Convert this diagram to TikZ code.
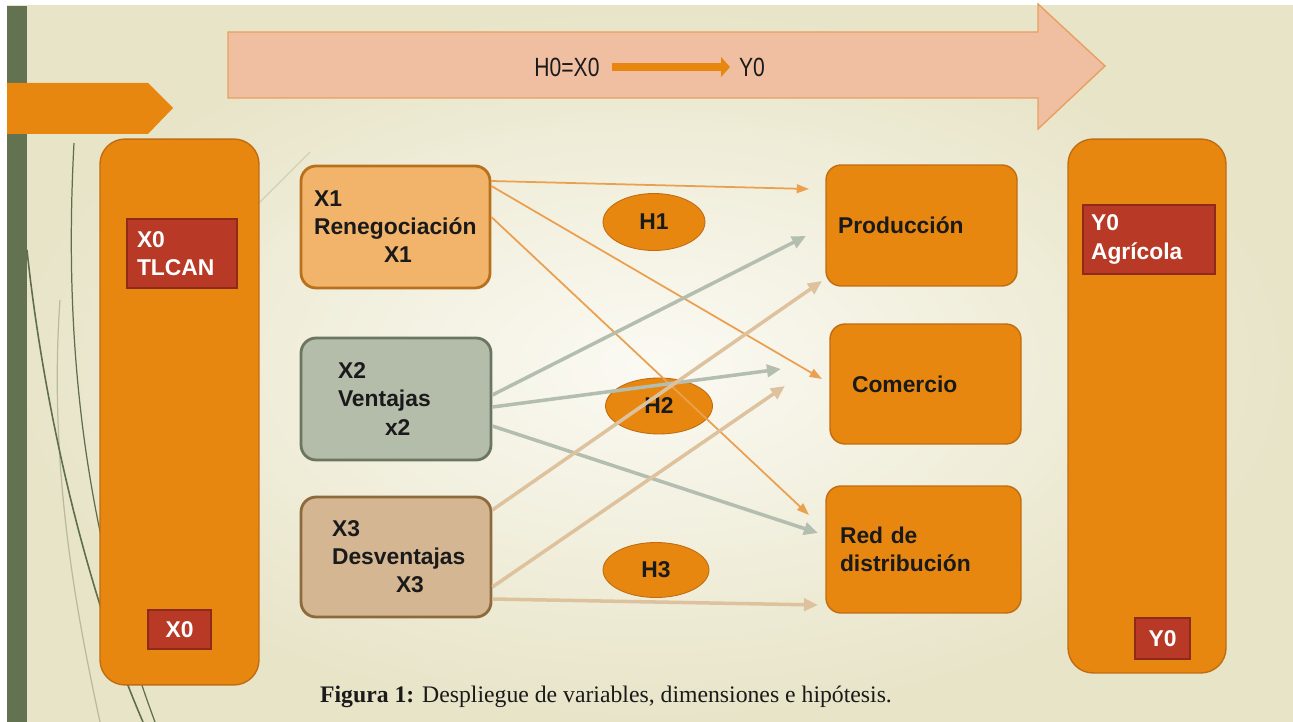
\documentclass[tikz,border=0pt]{standalone}
\usepackage{fontspec}
\setmainfont{Liberation Sans}
\newfontfamily\narrowfont[FakeStretch=0.8]{Liberation Sans}
\newfontfamily\captionfont{Liberation Serif}
\usetikzlibrary{arrows.meta,shapes.geometric}

\definecolor{bgin}{HTML}{FBFAF3}
\definecolor{bgout}{HTML}{E8E4C8}
\definecolor{bargreen}{HTML}{637352}
\definecolor{wisp}{HTML}{5E6E4C}
\definecolor{dimorange}{HTML}{E8870F}
\definecolor{orangeline}{HTML}{C06C10}
\definecolor{varred}{HTML}{B83A26}
\definecolor{redline}{HTML}{8E2A1A}
\definecolor{peach}{HTML}{F0BEA0}
\definecolor{peachline}{HTML}{E8A060}
\definecolor{xonefill}{HTML}{F2B46A}
\definecolor{xoneline}{HTML}{B8701C}
\definecolor{xtwofill}{HTML}{B4BCAA}
\definecolor{xtwoline}{HTML}{6B7660}
\definecolor{xthreefill}{HTML}{D4B792}
\definecolor{xthreeline}{HTML}{8C6A3C}
\definecolor{linkorange}{HTML}{EBA050}
\definecolor{linkgrey}{HTML}{B3BDB0}
\definecolor{linktan}{HTML}{DEC29E}
\definecolor{ink}{HTML}{1A1A1A}

\newcommand\boxfont{\fontsize{13}{16}\selectfont\bfseries}

\begin{document}
\begin{tikzpicture}[
    x=0.02cm, y=-0.02cm,
    bigbox/.style={draw=orangeline, line width=0.8pt, fill=dimorange, rounded corners=0.5cm},
    redbox/.style={draw=redline, line width=0.8pt, fill=varred, text=white, font=\boxfont, align=left},
    varbox/.style={line width=1.6pt, rounded corners=0.3cm, text=ink, font=\boxfont, align=left, minimum height=2.44cm},
    dimbox/.style={draw=orangeline, line width=0.8pt, fill=dimorange, rounded corners=0.3cm, text=ink, font=\boxfont, align=left},
    hyp/.style={ellipse, draw=orangeline, line width=0.5pt, fill=dimorange, text=ink, font=\boxfont, inner sep=0pt},
    thin link/.style={-{Triangle[length=7pt,width=5pt]}, line width=1pt, draw=linkorange},
    thick link/.style={-{Triangle[length=8pt,width=7pt]}, line width=2pt},
    wispline/.style={draw=wisp, line width=0.7pt}
]
    % page and background
    \useasboundingbox (0,0) rectangle (1293,722);
    \fill[white] (0,0) rectangle (1293,722);
    \shade[inner color=bgin, outer color=bgout] (7,6) rectangle (1293,722);
    \fill[bargreen] (7,6) rectangle (27,722);

    % wisps
    \draw[wispline] (74,143) .. controls (64,330) and (80,520) .. (155,722);
    \draw[wispline, line width=0.9pt] (27,250) .. controls (45,420) and (90,600) .. (143,722);
    \draw[wispline, opacity=0.35] (60,300) .. controls (48,470) and (78,620) .. (100,722);
    \draw[wispline, opacity=0.2] (259,203) -- (310,152);

    % big arrow on top
    \filldraw[fill=peach, draw=peachline, line width=0.8pt]
        (228,32) -- (1038,32) -- (1038,4) -- (1105,66) -- (1038,129) -- (1038,98) -- (228,98) -- cycle;
    \node[font=\narrowfont\fontsize{15}{18}\selectfont, text=ink, inner sep=0pt] (hzero) at (567,67) {H0=X0};
    \node[font=\narrowfont\fontsize{15}{18}\selectfont, text=ink, inner sep=0pt] (yzero) at (752,67) {Y0};
    \draw[-{Triangle[length=5pt,width=11pt]}, line width=4.5pt, draw=dimorange, shorten <=7pt, shorten >=5pt] (hzero) -- (yzero);

    % small arrow on the left
    \fill[dimorange] (7,83) -- (148,83) -- (173,108) -- (148,134) -- (7,134) -- cycle;

    % X0 and Y0
    \node[bigbox, minimum width=3.18cm, minimum height=10.92cm] (xzero) at (179.5,412) {};
    \node[bigbox, minimum width=3.16cm, minimum height=10.68cm] (yzerobox) at (1147,406) {};
    \node[redbox, minimum width=2.2cm, minimum height=1.38cm, text width=1.8cm, inner xsep=0.2cm] (tlcan) at (182,253.5) {X0\\TLCAN};
    \node[redbox, minimum width=1.26cm, minimum height=0.78cm, align=center] (xzerolow) at (179.5,629.5) {X0};
    \node[redbox, minimum width=2.64cm, minimum height=1.38cm, text width=2.32cm, inner xsep=0.16cm] (agricola) at (1149,239.5) {Y0\\Agrícola};
    \node[redbox, minimum width=1.1cm, minimum height=0.82cm, align=center] (yzerolow) at (1162.5,638.5) {Y0};

    % variables
    \node[varbox, draw=xoneline, fill=xonefill, text width=3.26cm, inner xsep=0.26cm] (xone) at (395.5,227)
        {X1\\Renegociación\\\hspace*{1.4cm}X1};
    \node[varbox, draw=xtwoline, fill=xtwofill, text width=2.32cm, inner xsep=0.74cm] (xtwo) at (396,399)
        {X2\\Ventajas\\\hspace*{0.94cm}x2};
    \node[varbox, draw=xthreeline, fill=xthreefill, text width=2.56cm, inner xsep=0.62cm, minimum height=2.4cm] (xthree) at (396,557)
        {X3\\Desventajas\\\hspace*{1.28cm}X3};

    % dimensions
    \node[dimbox, minimum height=2.42cm, text width=3.34cm, inner xsep=0.24cm] (prod) at (921.5,225.5) {Producción};
    \node[dimbox, minimum height=2.4cm, text width=2.94cm, inner xsep=0.44cm] (com) at (925.5,384) {Comercio};
    \node[dimbox, minimum height=2.54cm, text width=3.34cm, inner xsep=0.28cm] (red) at (923.5,549.5) {Red de\\distribución};

    % hypotheses
    \node[hyp, minimum width=2.04cm, minimum height=1.14cm] (hone) at (654,222) {H1};
    \node[hyp, minimum width=2.14cm, minimum height=1.12cm] (htwo) at (659,406) {H2};
    \node[hyp, minimum width=2.12cm, minimum height=1.1cm] (hthree) at (656,570) {H3};

    % arrow ends
    \coordinate (pa) at (809,189);
    \coordinate (pb) at (806,236);
    \coordinate (pc) at (822,281);
    \coordinate (ca) at (822,379);
    \coordinate (cb) at (781,369);
    \coordinate (cc) at (785,386);
    \coordinate (ra) at (809,515);
    \coordinate (rb) at (818,533);
    \coordinate (rc) at (818,605);

    % links
    \draw[thin link] (xone.east |- 0,181) -- (pa);
    \draw[thin link] (xone.east |- 0,186) -- (ca);
    \draw[thin link] (xone.east |- 0,217) -- (ra);
    \draw[thick link, draw=linkgrey] (xtwo.east |- 0,395) -- (pb);
    \draw[thick link, draw=linkgrey] (xtwo.east |- 0,407) -- (cb);
    \draw[thick link, draw=linkgrey] (xtwo.east |- 0,426) -- (rb);
    \draw[thick link, draw=linktan] (xthree.east |- 0,510) -- (pc);
    \draw[thick link, draw=linktan] (xthree.east |- 0,587) -- (cc);
    \draw[thick link, draw=linktan] (xthree.east |- 0,599) -- (rc);

    % caption
    \node[font=\captionfont\fontsize{13.5}{16}\selectfont, text=ink] (caption) at (606,697)
        {\textbf{Figura 1:} Despliegue de variables, dimensiones e hipótesis.};
\end{tikzpicture}
\end{document}
